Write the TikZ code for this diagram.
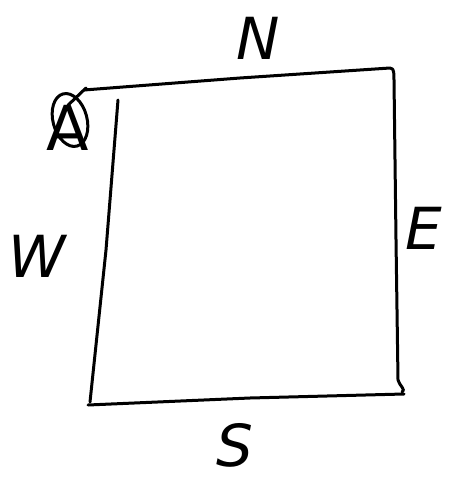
\documentclass[tikz,border=0pt]{standalone}
\usepackage{fontspec}
\setmainfont{DejaVu Sans}
\tikzset{
  side/.style={line width=3pt,line cap=round,line join=round},
  compass/.style={font=\fontsize{58}{58}\selectfont\itshape},
  corner/.style={font=\fontsize{62}{62}\selectfont,inner sep=0pt}
}

\begin{document}
\begin{tikzpicture}[x=1pt,y=-1pt]
  \useasboundingbox (0,0) rectangle (453,486);
  % the square, drawn by hand
  \draw[side] (84,90) -- (240,78) -- (390,68) to[out=0,in=95] (394,80)
    -- (396,240) -- (398,380) to[out=-80,in=20] (402,392);
  \draw[side] (118,100) -- (106,250) -- (90,402);
  \draw[side] (88,405) -- (250,398) -- (404,394);

  % labels of the sides
  \node[compass] (north) at (258,38) {N};
  \node[compass] (east) at (424,228) {E};
  \node[compass] (west) at (37,256) {W};
  \node[compass] (south) at (235,445) {S};

  % the marked corner
  \node[corner] (cornerA) at (68,128) {A};
  \draw[side] (70,120) ellipse[x radius=17,y radius=27,rotate=15];
  \draw[side] (cornerA.north) -- (86,88);
\end{tikzpicture}
\end{document}
